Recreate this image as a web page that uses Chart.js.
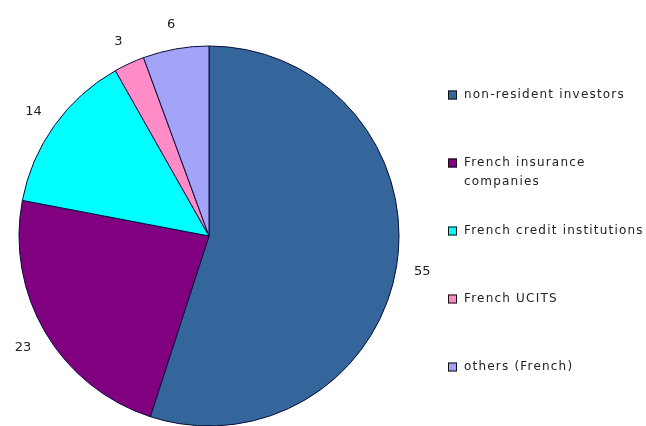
<!DOCTYPE html>
<html>
<head>
<meta charset="utf-8">
<script src="https://cdn.jsdelivr.net/npm/chart.js@4/dist/chart.umd.min.js"></script>
<style>
html,body{margin:0;padding:0;background:#fff;overflow:hidden;width:646px;height:426px;}
#wrap{position:absolute;left:0;top:0;width:646px;height:472px;}
</style>
</head>
<body>
<div id="wrap"><canvas id="c"></canvas></div>
<script>
const categories = ['non-resident investors', 'French insurance\ncompanies', 'French credit institutions', 'French UCITS', 'others (French)'];
const values = [55, 23, 13.8, 2.6, 5.6];
const valueLabels = ['55', '23', '14', '3', '6'];
const colors = ['#34659B', '#800080', '#00FFFF', '#FF8CC6', '#A3A3F7'];

const labelPlugin = {
  id: 'outLabels',
  afterDatasetsDraw(chart) {
    const ctx = chart.ctx;
    const meta = chart.getDatasetMeta(0);
    ctx.save();
    ctx.font = '13px "DejaVu Sans"';
    ctx.fillStyle = '#222';
    ctx.textAlign = 'center';
    ctx.textBaseline = 'middle';
    meta.data.forEach((arc, i) => {
      const p = arc.getProps(['x','y','startAngle','endAngle','outerRadius'], true);
      const mid = (p.startAngle + p.endAngle) / 2;
      const R = p.outerRadius + 26;
      ctx.fillText(valueLabels[i], p.x + Math.cos(mid) * R, p.y + Math.sin(mid) * R + 1.5);
    });
    // legend
    ctx.textAlign = 'left';
    ctx.font = '12px "DejaVu Sans"';
    ctx.letterSpacing = '1.2px';
    const x0 = 448, y0 = 95, step = 68;
    categories.forEach((c, i) => {
      const y = y0 + i * step;
      ctx.fillStyle = colors[i];
      ctx.fillRect(x0, y - 4.5, 9, 9);
      ctx.strokeStyle = '#111';
      ctx.lineWidth = 1;
      ctx.strokeRect(x0 + 0.5, y - 4, 8, 8);
      ctx.fillStyle = '#222';
      c.split('\n').forEach((line, j) => {
        ctx.fillText(line, x0 + 16, y + j * 19);
      });
    });
    ctx.restore();
  }
};

new Chart(document.getElementById('c'), {
  type: 'pie',
  data: {
    labels: categories,
    datasets: [{
      data: values,
      backgroundColor: colors,
      borderColor: '#0A0A3A',
      borderWidth: 1
    }]
  },
  options: {
    responsive: true,
    maintainAspectRatio: false,
    animation: false,
    radius: 190,
    layout: { padding: { left: 0, right: 228, top: 0, bottom: 0 } },
    plugins: { legend: { display: false }, tooltip: { enabled: false } }
  },
  plugins: [labelPlugin]
});
</script>
</body>
</html>
